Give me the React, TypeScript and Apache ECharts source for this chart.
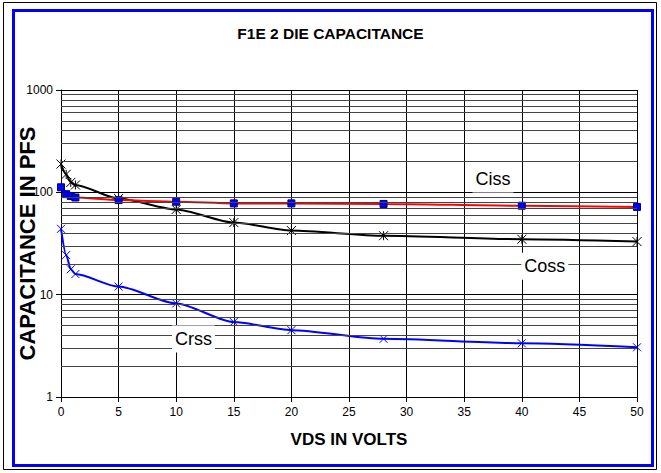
import React, { useEffect, useRef } from 'react';
import * as echarts from 'echarts';

const vds = [0, 0.45, 0.85, 1.25, 5, 10, 15, 20, 28, 40, 50];
const ciss = [112, 96, 92, 89, 84, 81, 78, 78, 77, 74, 72];
const coss = [189, 150, 125, 118, 87, 68, 50.6, 42.3, 37.7, 34.8, 33];
const crss = [44, 24.4, 17.7, 15.9, 12, 8.2, 5.4, 4.5, 3.7, 3.35, 3.06];
const yMinor = [2, 3, 4, 5, 6, 7, 8, 9, 20, 30, 40, 50, 60, 70, 80, 90, 200, 300, 400, 500, 600, 700, 800, 900];
const seriesLabels = [
  { text: 'Ciss', at: [37.5, 135] },
  { text: 'Coss', at: [42, 19] },
  { text: 'Crss', at: [11.5, 3.69] },
];

const FONT = '"Liberation Sans", Arial, sans-serif';
const ASTERISK = 'path://M0,0L10,10M10,0L0,10M5,0L5,10';
const XMARK = 'path://M0,0L10,10M10,0L0,10';

export default function App() {
  const ref = useRef<HTMLDivElement>(null);
  useEffect(() => {
    if (!ref.current) return;
    const chart = echarts.init(ref.current, null, { renderer: 'svg' });
    const pair = (ys: number[]) => vds.map((x, i) => [x, ys[i]]);
    chart.setOption({
      animation: false,
      backgroundColor: '#fff',
      textStyle: { fontFamily: FONT },
      title: {
        text: 'F1E 2 DIE CAPACITANCE',
        left: 'center',
        top: 20,
        textStyle: { fontFamily: FONT, fontSize: 15.5, fontWeight: 'bold', color: '#000' },
      },
      grid: { left: 61, right: 24, top: 90, bottom: 76, outerBoundsMode: 'none', containLabel: false },
      xAxis: {
        type: 'value',
        min: 0,
        max: 50,
        interval: 5,
        name: 'VDS IN VOLTS',
        nameLocation: 'middle',
        nameGap: 34,
        nameMoveOverlap: false,
        nameTextStyle: { fontFamily: FONT, fontSize: 17, fontWeight: 'bold', color: '#000' },
        axisLine: { lineStyle: { color: '#000', width: 1 } },
        axisTick: { show: true, length: 5, lineStyle: { color: '#000' } },
        axisLabel: { fontFamily: FONT, fontSize: 12, color: '#000', margin: 9 },
        splitLine: { show: true, lineStyle: { color: '#000', width: 1 } },
      },
      yAxis: {
        type: 'log',
        logBase: 10,
        min: 1,
        max: 1000,
        name: 'CAPACITANCE IN PFS',
        nameLocation: 'middle',
        nameGap: 23,
        nameMoveOverlap: false,
        nameTextStyle: { fontFamily: FONT, fontSize: 22, fontWeight: 'bold', color: '#000' },
        axisLine: { show: true, lineStyle: { color: '#000', width: 1 } },
        axisTick: { show: true, length: 5, lineStyle: { color: '#000' } },
        axisLabel: {
          fontFamily: FONT,
          fontSize: 12,
          color: '#000',
          margin: 8,
          formatter: (v: number) => String(Math.round(v)),
        },
        splitLine: { show: true, lineStyle: { color: '#000', width: 1 } },
      },
      series: [
        {
          name: 'grid-minor',
          type: 'line',
          data: [],
          silent: true,
          markLine: {
            silent: true,
            symbol: ['none', 'none'],
            label: { show: false },
            lineStyle: { color: '#444', width: 1, type: 'solid' },
            data: yMinor.map((v) => ({ yAxis: v })),
          },
        },
        {
          name: 'Crss',
          type: 'line',
          data: pair(crss),
          smooth: 0.25,
          smoothMonotone: 'x',
          symbol: XMARK,
          symbolSize: 8,
          lineStyle: { color: '#0000FF', width: 2 },
          itemStyle: { color: '#0000FF', borderColor: '#0000FF', borderWidth: 1 },
        },
        {
          name: 'Coss',
          type: 'line',
          data: pair(coss),
          smooth: 0.25,
          smoothMonotone: 'x',
          symbol: ASTERISK,
          symbolSize: 9,
          lineStyle: { color: '#000', width: 2 },
          itemStyle: { color: '#000', borderColor: '#000', borderWidth: 1 },
        },
        {
          name: 'Ciss',
          type: 'line',
          data: pair(ciss),
          smooth: 0.25,
          smoothMonotone: 'x',
          symbol: 'rect',
          symbolSize: 7,
          lineStyle: { color: '#FF0000', width: 2 },
          itemStyle: { color: '#0000FF', borderColor: '#000080', borderWidth: 1 },
        },
      ],
    });

    const labelEls = seriesLabels.map((l, i) => {
      const p = chart.convertToPixel({ gridIndex: 0 }, l.at as any) as number[];
      return {
        type: 'text',
        id: 'lbl' + i,
        x: p[0],
        y: p[1],
        z: 100,
        style: {
          text: l.text,
          fill: '#000',
          font: '18px ' + FONT,
          align: 'center',
          verticalAlign: 'middle',
          backgroundColor: '#fff',
          padding: [3, 3, 6, 3],
        },
      };
    });

    chart.setOption({
      graphic: [
        {
          type: 'rect',
          id: 'outer',
          silent: true,
          shape: { x: 3.5, y: 2.5, width: 653, height: 467 },
          style: { fill: 'none', stroke: '#000', lineWidth: 1 },
          z: 200,
        },
        {
          type: 'rect',
          id: 'blue',
          silent: true,
          shape: { x: 13.5, y: 10.5, width: 639, height: 455 },
          style: { fill: 'none', stroke: '#0000FF', lineWidth: 3 },
          z: 200,
        },
        ...labelEls,
      ],
    });

    return () => chart.dispose();
  }, []);
  return (
    <div
      ref={ref}
      style={{ position: 'fixed', left: 0, top: 0, width: 661, height: 473, background: '#fff' }}
    />
  );
}
